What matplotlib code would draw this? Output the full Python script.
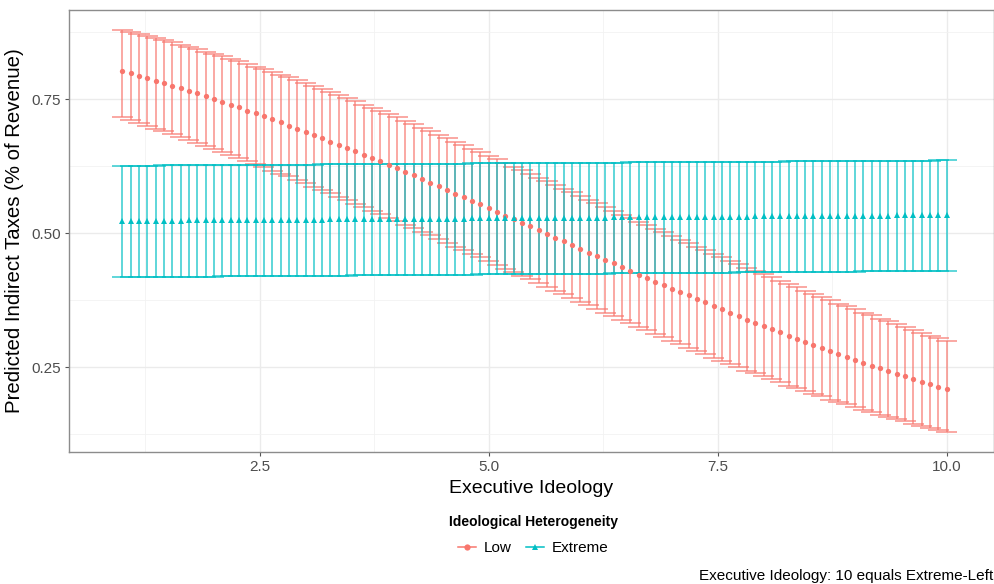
import numpy as np
import matplotlib
matplotlib.use('Agg')
import matplotlib.pyplot as plt
from matplotlib.lines import Line2D

plt.rcParams['font.family'] = ['Liberation Sans', 'DejaVu Sans']

# executive ideology grid (100 points from 1 to 10)
ideology = np.linspace(1, 10, 100)

low_mean = [
    0.803, 0.799, 0.794, 0.790, 0.785, 0.780, 0.775, 0.771, 0.766, 0.761,
    0.756, 0.750, 0.745, 0.740, 0.735, 0.729, 0.724, 0.718, 0.713, 0.707,
    0.701, 0.695, 0.689, 0.683, 0.677, 0.671, 0.665, 0.659, 0.653, 0.646,
    0.640, 0.634, 0.627, 0.621, 0.614, 0.608, 0.601, 0.594, 0.588, 0.581,
    0.574, 0.568, 0.561, 0.554, 0.547, 0.540, 0.533, 0.526, 0.520, 0.513,
    0.506, 0.499, 0.492, 0.485, 0.478, 0.471, 0.464, 0.458, 0.451, 0.444,
    0.437, 0.430, 0.423, 0.417, 0.410, 0.403, 0.397, 0.390, 0.384, 0.377,
    0.371, 0.364, 0.358, 0.352, 0.345, 0.339, 0.333, 0.327, 0.321, 0.315,
    0.309, 0.303, 0.297, 0.291, 0.286, 0.280, 0.274, 0.269, 0.264, 0.258,
    0.253, 0.248, 0.243, 0.238, 0.233, 0.228, 0.223, 0.218, 0.214, 0.209,
]
low_upper = [
    0.879, 0.875, 0.871, 0.868, 0.864, 0.860, 0.856, 0.852, 0.848, 0.843,
    0.839, 0.835, 0.830, 0.825, 0.821, 0.816, 0.811, 0.806, 0.801, 0.796,
    0.791, 0.786, 0.780, 0.775, 0.769, 0.764, 0.758, 0.752, 0.746, 0.740,
    0.734, 0.728, 0.722, 0.716, 0.710, 0.704, 0.697, 0.691, 0.684, 0.678,
    0.671, 0.665, 0.658, 0.651, 0.645, 0.638, 0.631, 0.624, 0.618, 0.611,
    0.604, 0.597, 0.590, 0.583, 0.577, 0.570, 0.563, 0.556, 0.549, 0.542,
    0.535, 0.529, 0.522, 0.515, 0.508, 0.502, 0.495, 0.488, 0.482, 0.475,
    0.468, 0.462, 0.456, 0.449, 0.443, 0.436, 0.430, 0.424, 0.418, 0.411,
    0.405, 0.399, 0.393, 0.387, 0.381, 0.375, 0.369, 0.364, 0.358, 0.352,
    0.347, 0.341, 0.336, 0.330, 0.325, 0.319, 0.314, 0.309, 0.304, 0.299,
]
low_lower = [
    0.716, 0.711, 0.705, 0.700, 0.695, 0.690, 0.685, 0.679, 0.674, 0.669,
    0.663, 0.658, 0.652, 0.646, 0.641, 0.635, 0.629, 0.623, 0.617, 0.611,
    0.606, 0.599, 0.593, 0.587, 0.581, 0.575, 0.568, 0.562, 0.555, 0.549,
    0.542, 0.536, 0.529, 0.523, 0.516, 0.509, 0.503, 0.496, 0.489, 0.482,
    0.475, 0.469, 0.462, 0.455, 0.448, 0.441, 0.434, 0.427, 0.420, 0.414,
    0.407, 0.400, 0.393, 0.386, 0.379, 0.372, 0.366, 0.359, 0.352, 0.345,
    0.339, 0.332, 0.325, 0.319, 0.312, 0.306, 0.299, 0.293, 0.287, 0.281,
    0.274, 0.268, 0.262, 0.256, 0.250, 0.244, 0.239, 0.233, 0.228, 0.222,
    0.216, 0.211, 0.206, 0.201, 0.196, 0.190, 0.186, 0.181, 0.176, 0.171,
    0.167, 0.162, 0.158, 0.154, 0.150, 0.145, 0.141, 0.137, 0.134, 0.130,
]

ext_mean = [
    0.5230, 0.5231, 0.5232, 0.5233, 0.5234, 0.5236, 0.5237, 0.5238, 0.5239, 0.5240,
    0.5241, 0.5242, 0.5243, 0.5244, 0.5246, 0.5247, 0.5248, 0.5249, 0.5250, 0.5251,
    0.5252, 0.5253, 0.5254, 0.5256, 0.5257, 0.5258, 0.5259, 0.5260, 0.5261, 0.5262,
    0.5263, 0.5264, 0.5266, 0.5267, 0.5268, 0.5269, 0.5270, 0.5271, 0.5272, 0.5273,
    0.5274, 0.5276, 0.5277, 0.5278, 0.5279, 0.5280, 0.5281, 0.5282, 0.5283, 0.5284,
    0.5286, 0.5287, 0.5288, 0.5289, 0.5290, 0.5291, 0.5292, 0.5293, 0.5294, 0.5296,
    0.5297, 0.5298, 0.5299, 0.5300, 0.5301, 0.5302, 0.5303, 0.5304, 0.5305, 0.5307,
    0.5308, 0.5309, 0.5310, 0.5311, 0.5312, 0.5313, 0.5314, 0.5315, 0.5317, 0.5318,
    0.5319, 0.5320, 0.5321, 0.5322, 0.5323, 0.5324, 0.5325, 0.5327, 0.5328, 0.5329,
    0.5330, 0.5331, 0.5332, 0.5333, 0.5334, 0.5335, 0.5337, 0.5338, 0.5339, 0.5340,
]
ext_upper = [
    0.6260, 0.6261, 0.6262, 0.6263, 0.6264, 0.6265, 0.6266, 0.6267, 0.6268, 0.6269,
    0.6270, 0.6271, 0.6272, 0.6273, 0.6274, 0.6275, 0.6276, 0.6277, 0.6278, 0.6279,
    0.6280, 0.6281, 0.6282, 0.6283, 0.6284, 0.6285, 0.6286, 0.6287, 0.6288, 0.6289,
    0.6290, 0.6291, 0.6292, 0.6293, 0.6294, 0.6295, 0.6296, 0.6297, 0.6298, 0.6299,
    0.6300, 0.6301, 0.6302, 0.6303, 0.6304, 0.6305, 0.6306, 0.6307, 0.6308, 0.6309,
    0.6310, 0.6311, 0.6312, 0.6313, 0.6314, 0.6315, 0.6316, 0.6317, 0.6318, 0.6319,
    0.6320, 0.6321, 0.6322, 0.6323, 0.6324, 0.6325, 0.6326, 0.6327, 0.6328, 0.6329,
    0.6330, 0.6331, 0.6332, 0.6333, 0.6334, 0.6335, 0.6336, 0.6337, 0.6338, 0.6339,
    0.6340, 0.6341, 0.6342, 0.6343, 0.6344, 0.6345, 0.6346, 0.6347, 0.6348, 0.6349,
    0.6350, 0.6351, 0.6352, 0.6353, 0.6354, 0.6355, 0.6356, 0.6357, 0.6358, 0.6360,
]
ext_lower = [
    0.4180, 0.4181, 0.4182, 0.4184, 0.4185, 0.4186, 0.4187, 0.4188, 0.4190, 0.4191,
    0.4192, 0.4193, 0.4195, 0.4196, 0.4197, 0.4198, 0.4199, 0.4201, 0.4202, 0.4203,
    0.4204, 0.4205, 0.4207, 0.4208, 0.4209, 0.4210, 0.4212, 0.4213, 0.4214, 0.4215,
    0.4216, 0.4218, 0.4219, 0.4220, 0.4221, 0.4222, 0.4224, 0.4225, 0.4226, 0.4227,
    0.4228, 0.4230, 0.4231, 0.4232, 0.4233, 0.4235, 0.4236, 0.4237, 0.4238, 0.4239,
    0.4241, 0.4242, 0.4243, 0.4244, 0.4245, 0.4247, 0.4248, 0.4249, 0.4250, 0.4252,
    0.4253, 0.4254, 0.4255, 0.4256, 0.4258, 0.4259, 0.4260, 0.4261, 0.4262, 0.4264,
    0.4265, 0.4266, 0.4267, 0.4268, 0.4270, 0.4271, 0.4272, 0.4273, 0.4275, 0.4276,
    0.4277, 0.4278, 0.4279, 0.4281, 0.4282, 0.4283, 0.4284, 0.4285, 0.4287, 0.4288,
    0.4289, 0.4290, 0.4292, 0.4293, 0.4294, 0.4295, 0.4296, 0.4298, 0.4299, 0.4300,
]

groups = ['Low', 'Extreme']
colors = {'Low': '#F8766D', 'Extreme': '#00BFC4'}
markers = {'Low': 'o', 'Extreme': '^'}
series = {
    'Low': (low_mean, low_lower, low_upper),
    'Extreme': (ext_mean, ext_lower, ext_upper),
}

cap_half = 0.115

fig = plt.figure(figsize=(9.95, 5.84), dpi=100, facecolor='white')
ax = fig.add_axes([69 / 995, 1 - 452 / 584, 925 / 995, 442 / 584])

# error bars first, then points on top
for g in groups:
    m, lo, hi = series[g]
    ax.vlines(ideology, lo, hi, color=colors[g], lw=1.1, alpha=0.8, zorder=3)
    ax.hlines(lo, ideology - cap_half, ideology + cap_half, color=colors[g], lw=1.1, alpha=0.8, zorder=3)
    ax.hlines(hi, ideology - cap_half, ideology + cap_half, color=colors[g], lw=1.1, alpha=0.8, zorder=3)
for g in groups:
    m = series[g][0]
    ax.plot(ideology, m, linestyle='none', marker=markers[g], markersize=3.8,
            color=colors[g], markeredgewidth=0, zorder=4)

ax.set_xlim(0.418, 10.516)
ax.set_ylim(0.0921, 0.9165)

ax.set_xticks([2.5, 5.0, 7.5, 10.0])
ax.set_xticklabels(['2.5', '5.0', '7.5', '10.0'])
ax.set_yticks([0.25, 0.50, 0.75])
ax.set_yticklabels(['0.25', '0.50', '0.75'])
ax.set_xticks([1.25, 3.75, 6.25, 8.75], minor=True)
ax.set_yticks([0.125, 0.375, 0.625, 0.875], minor=True)

ax.grid(which='major', color='#EBEBEB', lw=1.0, zorder=0)
ax.grid(which='minor', color='#F2F2F2', lw=0.6, zorder=0)
ax.set_axisbelow(True)

ax.tick_params(which='major', direction='out', length=3, width=0.8, color='#555555',
               labelcolor='#4D4D4D', labelsize=11, pad=3)
ax.tick_params(which='minor', length=0)
for s in ax.spines.values():
    s.set_color('#8C8C8C')
    s.set_linewidth(1.0)

ax.set_xlabel('Executive Ideology', fontsize=14, color='black', labelpad=4)
ax.set_ylabel('Predicted Indirect Taxes (% of Revenue)', fontsize=14.7, color='black', labelpad=5)

handles = [Line2D([], [], color=colors[g], marker=markers[g], markersize=4.5, lw=1.1,
                  markeredgewidth=0) for g in groups]
leg = fig.legend(handles, groups, loc='upper center', bbox_to_anchor=(0.536, 1 - 501 / 584),
                 ncol=2, frameon=False, fontsize=11, handlelength=1.2, handletextpad=0.5,
                 columnspacing=0.9, title='Ideological Heterogeneity',
                 title_fontproperties={'weight': 'bold', 'size': 10})
leg._legend_box.sep = 9

fig.text(0.998, 0.002, 'Executive Ideology: 10 equals Extreme-Left', ha='right', va='bottom',
         fontsize=11, color='black')

fig.savefig('out.png', dpi=100, facecolor='white')
